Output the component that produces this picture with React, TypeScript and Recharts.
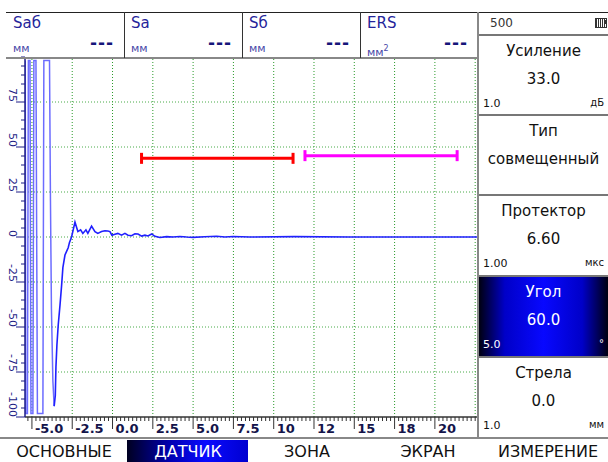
import React from 'react';
import { LineChart, Line, XAxis, YAxis, ReferenceLine } from 'recharts';

// А-развертка: время (мкс) / амплитуда (%)
const sigX = [
  -5.416, -5.385, -5.28, -5.22, -5.12, -5.06, -4.94, -4.88, -4.75, -4.66, -4.32, -4.26,
  -3.91, -3.85, -3.79, -3.7, -3.62, -3.55, -3.51, -3.45, -3.37, -3.26, -3.16, -3.08,
  -2.95, -2.85, -2.75, -2.67, -2.54, -2.33, -2.15, -1.98, -1.84, -1.65, -1.53, -1.3,
  -1.09, -0.91, -0.68, -0.47, -0.29, -0.16, -0.04, 0.15, 0.33, 0.56, 0.77, 0.96,
  1.18, 1.39, 1.58, 1.81, 2.01, 2.2, 2.43, 2.63, 2.94, 3.36, 3.75, 4.18,
  4.6, 4.99, 5.73, 6.46, 6.97, 7.49, 8.5, 11.3, 14.7, 22.65,
];
const sigY = [
  98, -98, -98, 98, 98, -98, -98, 98, 98, -98, -98, 98,
  98, 20, -40, -80, -94, -88, -72, -60, -49, -38, -27, -17,
  -10, -8, -6, -3, 0, 8.3, 3, 4, 2, 4, 2, 6,
  3, 2, 3, 3.5, 3.3, 3, 1, 1.5, 2, 1, 2, 1,
  0.7, 1.8, 1.7, 0.5, 1, 0.6, 1.7, 0.4, -0.3, 0.2, 0, 0.3,
  0, -0.2, 0.1, 0.4, 0, 0.3, 0, 0.2, 0, 0,
];
// до этой точки — зондирующий импульс (зашкал), рисуется светлее
const ringEnd = 16;

// стробы
const gateAX = [1.8, 11.2];
const gateAY = [43.7, 43.7];
const gateBX = [11.94, 21.38];
const gateBY = [45.2, 45.2];

const xMajor = [-5, -2.5, 0, 2.5, 5, 7.5, 10, 12.5, 15, 17.5, 20];
const xLabels = ['-5.0', '-2.5', '0.0', '2.5', '5.0', '7.5', '10', '12', '15', '18', '20'];
const xGrid = [-5, -2.5, 0, 2.5, 5, 7.5, 10, 12.5, 15, 17.5, 20, 22.5];
const yMajor = [75, 50, 25, 0, -25, -50, -75, -100];
const yLabels = ['75', '50', '25', '0', '-25', '-50', '-75', '-100'];
const yGrid = [75, 50, 25, 0, -25, -50, -75];

const headNames = ['Saб', 'Sa', 'Sб', 'ERS'];
const headUnits = ['мм', 'мм', 'мм', 'мм'];

const menuItems = ['ОСНОВНЫЕ', 'ДАТЧИК', 'ЗОНА', 'ЭКРАН', 'ИЗМЕРЕНИЕ'];
const menuCenters = [64, 188, 307, 428, 548];

const params = [
  { title: 'Усиление', value: '33.0', step: '1.0', unit: 'дБ' },
  { title: 'Тип', value: 'совмещенный', step: '', unit: '' },
  { title: 'Протектор', value: '6.60', step: '1.00', unit: 'мкс' },
  { title: 'Угол', value: '60.0', step: '5.0', unit: '°' },
  { title: 'Стрела', value: '0.0', step: '1.0', unit: 'мм' },
];
const paramTops = [35, 115, 195, 276, 357];
const activeParam = 3;

const xTicks = Array.from({ length: 112 }, (_, i) => Math.round((-5.25 + i * 0.25) * 100) / 100);
const yTicks = Array.from({ length: 41 }, (_, i) => -100 + i * 5);

const signal = sigX.map((x, i) => ({ x, y: sigY[i] }));
const ring = signal.slice(0, ringEnd + 1);
const echo = signal.slice(ringEnd);
const gateA = gateAX.map((x, i) => ({ x, y: gateAY[i] }));
const gateB = gateBX.map((x, i) => ({ x, y: gateBY[i] }));

const FONT = '"DejaVu Sans", Verdana, sans-serif';
const NAVY = '#1c1c86';

const XTick = (props: any) => {
  const { x, y, payload } = props;
  const k = xMajor.indexOf(payload.value);
  const major = k >= 0;
  return (
    <g>
      <line x1={x} x2={x} y1={y} y2={y + (major ? 12 : 4)} stroke="#333" strokeWidth={1} />
      {major && (
        <text x={x + 3} y={y + 16} fontSize={13} fontWeight="bold" fill="#14144a" fontFamily={FONT}>
          {xLabels[k]}
        </text>
      )}
    </g>
  );
};

const YTick = (props: any) => {
  const { x, y, payload } = props;
  const k = yMajor.indexOf(payload.value);
  const major = k >= 0;
  return (
    <g>
      <line x1={x - (major ? 9 : 4)} x2={x} y1={y} y2={y} stroke={NAVY} strokeWidth={1} />
      {major && (
        <text
          transform={`translate(${x - 13},${y}) rotate(90)`}
          textAnchor="end"
          dominantBaseline="central"
          fontSize={11}
          fill={NAVY}
          fontFamily={FONT}
        >
          {yLabels[k]}
        </text>
      )}
    </g>
  );
};

const capDot = (color: string) => (p: any) => (
  <rect key={p.index} x={p.cx - 1.5} y={p.cy - 5.5} width={3} height={11} fill={color} />
);

const abs = (left: number, top: number, extra: React.CSSProperties = {}): React.CSSProperties => ({
  position: 'absolute',
  left,
  top,
  ...extra,
});

export default function App() {
  return (
    <div style={abs(0, 0, { width: 608, height: 462, background: '#fff', fontFamily: FONT, overflow: 'hidden' })}>
      <div style={abs(0, 0)}>
        <LineChart width={480} height={440} margin={{ top: 57, right: 2.4, left: 0, bottom: 0 }}>
          <XAxis
            type="number"
            dataKey="x"
            domain={[-5.43, 22.65]}
            allowDataOverflow
            ticks={xTicks}
            interval={0}
            height={23}
            tickSize={0}
            tickMargin={0}
            tickLine={false}
            tick={<XTick />}
            axisLine={{ stroke: '#333', strokeWidth: 1.5 }}
          />
          <YAxis
            type="number"
            domain={[-100, 100]}
            allowDataOverflow
            ticks={yTicks}
            interval={0}
            width={25}
            tickSize={0}
            tickMargin={0}
            tickLine={false}
            tick={<YTick />}
            axisLine={{ stroke: NAVY, strokeWidth: 1.5 }}
          />
          {xGrid.map((v) => (
            <ReferenceLine key={'gx' + v} x={v} stroke="#2a9a2a" strokeDasharray="1 2" />
          ))}
          {yGrid.map((v) => (
            <ReferenceLine key={'gy' + v} y={v} stroke="#49ab49" strokeDasharray="1 2" />
          ))}
          <Line
            data={ring}
            dataKey="y"
            type="linear"
            stroke="#6c6cff"
            strokeWidth={1.5}
            dot={false}
            isAnimationActive={false}
          />
          <Line
            data={echo}
            dataKey="y"
            type="linear"
            stroke="#2020ff"
            strokeWidth={1.6}
            dot={false}
            isAnimationActive={false}
          />
          <Line
            data={gateA}
            dataKey="y"
            type="linear"
            stroke="#ff0000"
            strokeWidth={3}
            dot={capDot('#ff0000')}
            isAnimationActive={false}
          />
          <Line
            data={gateB}
            dataKey="y"
            type="linear"
            stroke="#ff00ff"
            strokeWidth={3}
            dot={capDot('#ff00ff')}
            isAnimationActive={false}
          />
        </LineChart>
      </div>

      {/* шапка измерений */}
      <div style={abs(6, 12, { width: 602, height: 0, borderTop: '1px solid #222' })} />
      <div style={abs(6, 57, { width: 472, height: 0, borderTop: '2px solid #888' })} />
      {headNames.map((n, i) => {
        const left = 7 + i * 118;
        return (
          <div key={n}>
            {i > 0 && <div style={abs(left - 1, 12, { width: 1, height: 46, background: '#333' })} />}
            <div style={abs(left + 6, 15, { fontSize: 15, color: '#24249a', lineHeight: '16px' })}>{n}</div>
            <div style={abs(left + 6, 42, { fontSize: 11, color: '#4848a8', lineHeight: '14px' })}>
              {headUnits[i]}
              {i === 3 && <sup style={{ fontSize: 8, verticalAlign: 5 }}>2</sup>}
            </div>
            <div
              style={abs(left + 83, 34, {
                fontSize: 17,
                fontWeight: 'bold',
                color: '#16167a',
                lineHeight: '18px',
                letterSpacing: 1,
              })}
            >
              ---
            </div>
          </div>
        );
      })}

      {/* правая панель */}
      <div style={abs(477, 12, { width: 2, height: 426, background: '#888' })} />
      <div style={abs(490, 16, { fontSize: 12, color: '#333', lineHeight: '14px' })}>500</div>
      <div style={abs(595, 18, { width: 10, height: 8, border: '1px solid #333', background: 'repeating-linear-gradient(to right, #333 0 1px, #fff 1px 2px)' })} />
      <div style={abs(605, 20, { width: 2, height: 4, background: '#333' })} />
      {params.map((p, i) => {
        const top = paramTops[i];
        const active = i === activeParam;
        const col = active ? '#fff' : '#111';
        return (
          <div key={p.title}>
            <div style={abs(479, top - 1, { width: 129, height: 0, borderTop: '2px solid #777' })} />
            {active && (
              <div
                style={abs(479, top + 1, {
                  width: 129,
                  height: 80,
                  background: 'linear-gradient(to right, #000010 0%, #0000c8 20%, #0808ff 50%, #0000c8 80%, #000010 100%)',
                })}
              />
            )}
            <div style={abs(479, top + 16, { width: 129, textAlign: 'center', fontSize: 15, color: col, transform: 'translateY(-50%)' })}>
              {p.title}
            </div>
            <div style={abs(479, top + 44, { width: 129, textAlign: 'center', fontSize: 15, color: col, transform: 'translateY(-50%)' })}>
              {p.value}
            </div>
            {p.step && (
              <div style={abs(483, top + 68, { fontSize: 11, color: col, transform: 'translateY(-50%)' })}>{p.step}</div>
            )}
            {p.unit && (
              <div style={abs(479, top + 67, { width: 125, textAlign: 'right', fontSize: 10, color: col, transform: 'translateY(-50%)' })}>
                {p.unit}
              </div>
            )}
          </div>
        );
      })}

      {/* нижнее меню */}
      <div style={abs(0, 437, { width: 608, height: 0, borderTop: '2px solid #888' })} />
      <div
        style={abs(127, 440, {
          width: 121,
          height: 22,
          background: 'linear-gradient(to right, #000020 0%, #0000b0 35%, #0a0aff 65%, #0000d0 100%)',
        })}
      />
      {menuItems.map((m, i) => (
        <div
          key={m}
          style={abs(menuCenters[i] - 70, 451, {
            width: 140,
            textAlign: 'center',
            fontSize: 16,
            color: i === 1 ? '#fff' : '#111',
            transform: 'translateY(-50%)',
          })}
        >
          {m}
        </div>
      ))}
    </div>
  );
}
